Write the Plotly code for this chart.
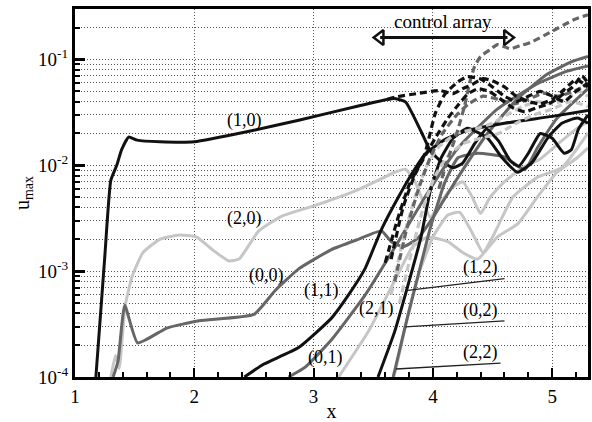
import math
import plotly.graph_objects as go

BLACK = "#111111"
DGRAY = "#666666"
LGRAY = "#c6c6c6"

# ---------------- solid curves (uncontrolled) ----------------
x_10 = [1.175, 1.25, 1.30, 1.35, 1.39, 1.45, 1.52, 1.71, 2.0, 2.46, 2.875, 3.375, 3.67, 3.77, 3.9, 3.98, 4.07, 4.17, 4.25, 4.35, 4.45, 4.55, 4.65, 4.72, 4.8, 4.9, 5.0, 5.1, 5.16, 5.22, 5.3]
y_10 = [1e-4, 1.39e-3, 7.2e-3, 0.0100, 0.0140, 0.0185, 0.0173, 0.0167, 0.0167, 0.0210, 0.0267, 0.0363, 0.0427, 0.0398, 0.021, 0.0136, 0.0109, 0.0095, 0.0105, 0.016, 0.022, 0.017, 0.011, 0.0098, 0.013, 0.020, 0.018, 0.013, 0.014, 0.022, 0.030]

x_20 = [1.30, 1.34, 1.37, 1.42, 1.48, 1.57, 1.71, 1.875, 2.02, 2.15, 2.29, 2.375, 2.54, 2.73, 3.02, 3.375, 3.54, 3.68, 3.77, 3.85, 3.92, 3.98, 4.05, 4.15, 4.25, 4.33, 4.40, 4.48, 4.6, 4.75, 4.9, 5.05, 5.2, 5.3]
y_20 = [1e-4, 1.6e-4, 1.2e-4, 4.7e-4, 9.0e-4, 1.5e-3, 2.0e-3, 2.2e-3, 2.1e-3, 1.6e-3, 1.25e-3, 1.3e-3, 2.4e-3, 3.3e-3, 4.2e-3, 5.9e-3, 7.2e-3, 8.6e-3, 9.2e-3, 7.0e-3, 4.5e-3, 3.2e-3, 4.2e-3, 6.0e-3, 7.0e-3, 5.0e-3, 3.5e-3, 5.0e-3, 7.0e-3, 9.5e-3, 0.0115, 0.016, 0.022, 0.026]

x_00 = [1.32, 1.36, 1.417, 1.525, 1.77, 2.04, 2.5, 2.68, 2.875, 3.15, 3.375, 3.57, 3.65, 3.75, 3.875, 4.0, 4.21, 4.46, 4.71, 4.96, 5.17, 5.3]
y_00 = [1e-4, 1.4e-4, 4.76e-4, 2.1e-4, 2.9e-4, 3.4e-4, 3.9e-4, 6.6e-4, 1.05e-3, 1.6e-3, 2.0e-3, 2.4e-3, 1.9e-3, 1.7e-3, 2.05e-3, 3.2e-3, 7.7e-3, 0.0202, 0.0427, 0.0728, 0.096, 0.107]

x_11 = [2.42, 2.58, 2.875, 3.15, 3.29, 3.43, 3.57, 3.71, 3.82, 3.93, 4.1, 4.27, 4.6, 5.0, 5.3]
y_11 = [1e-4, 1.32e-4, 1.9e-4, 3.6e-4, 5.9e-4, 1.05e-3, 2.5e-3, 5.0e-3, 8.2e-3, 0.0126, 0.0175, 0.021, 0.025, 0.029, 0.033]

x_01 = [2.79, 2.93, 3.15, 3.43, 3.71, 3.96, 4.21, 4.54, 4.875, 5.125, 5.3]
y_01 = [1e-4, 1.24e-4, 2.25e-4, 5.9e-4, 1.9e-3, 5.6e-3, 0.0146, 0.034, 0.059, 0.0776, 0.087]

x_21 = [3.21, 3.46, 3.71, 3.83, 3.96, 4.125, 4.25, 4.375, 4.54, 4.71, 4.875, 5.04, 5.21, 5.3]
y_21 = [1e-4, 2.7e-4, 9.5e-4, 1.7e-3, 2.1e-3, 1.9e-3, 1.5e-3, 1.3e-3, 2.1e-3, 2.8e-3, 5.0e-3, 8.6e-3, 0.0118, 0.0146]

x_12 = [3.54, 3.68, 3.79, 3.9, 3.98, 4.07, 4.17, 4.29, 4.46, 4.58, 4.71, 4.83, 4.96, 5.08, 5.21, 5.3]
y_12 = [1e-4, 2.7e-4, 7.3e-4, 2.1e-3, 5.9e-3, 0.0118, 0.0181, 0.0224, 0.018, 0.0118, 0.0086, 0.0106, 0.018, 0.025, 0.028, 0.025]

x_02 = [3.667, 3.767, 3.875, 3.98, 4.1, 4.21, 4.375, 4.6, 4.77, 4.875, 5.04, 5.3]
y_02 = [1e-4, 2.98e-4, 9.0e-4, 2.6e-3, 6.9e-3, 0.0118, 0.013, 0.012, 0.0091, 0.0146, 0.0278, 0.053]

x_22 = [3.67, 3.69, 3.79, 3.875, 4.0, 4.125, 4.225, 4.33, 4.42, 4.5, 4.67, 4.875, 5.08, 5.3]
y_22 = [1e-4, 1.19e-4, 3.85e-4, 9.0e-4, 2.1e-3, 3.4e-3, 3.6e-3, 2.3e-3, 1.5e-3, 2.1e-3, 5.0e-3, 7.7e-3, 9.5e-3, 0.0202]

# ---------------- dashed curves (controlled) ----------------
xd_10 = [3.62, 3.7, 3.86, 4.06, 4.17, 4.25, 4.33, 4.42, 4.5, 4.6, 4.7, 4.8, 4.9, 5.0, 5.1, 5.2, 5.3]
yd_10 = [0.042, 0.0445, 0.0475, 0.051, 0.0475, 0.053, 0.058, 0.066, 0.063, 0.055, 0.045, 0.040, 0.038, 0.042, 0.052, 0.065, 0.055]

xd_11 = [3.6, 3.7, 3.8, 3.93, 4.02, 4.1, 4.21, 4.29, 4.4, 4.5, 4.6, 4.7, 4.8, 4.9, 5.0, 5.1, 5.2, 5.3]
yd_11 = [1.2e-3, 3.0e-3, 6.5e-3, 0.0126, 0.031, 0.047, 0.0615, 0.0688, 0.0655, 0.055, 0.045, 0.040, 0.045, 0.050, 0.045, 0.040, 0.050, 0.060]

xd_12 = [3.65, 3.75, 3.85, 4.02, 4.125, 4.21, 4.29, 4.375, 4.47, 4.57, 4.67, 4.77, 4.87, 4.97, 5.07, 5.17, 5.25, 5.3]
yd_12 = [1.3e-3, 4.0e-3, 8.2e-3, 0.0181, 0.0278, 0.037, 0.047, 0.0529, 0.050, 0.042, 0.035, 0.032, 0.035, 0.038, 0.045, 0.055, 0.070, 0.060]

xd_00 = [4.05, 4.12, 4.2, 4.267, 4.31, 4.35, 4.4, 4.48, 4.54, 4.6, 4.65, 4.73, 4.82, 4.98, 5.18, 5.3]
yd_00 = [6.0e-3, 0.011, 0.020, 0.037, 0.0615, 0.086, 0.107, 0.124, 0.138, 0.132, 0.126, 0.135, 0.145, 0.180, 0.237, 0.265]

xd_01 = [3.68, 3.78, 3.88, 3.98, 4.08, 4.2, 4.3, 4.42, 4.55, 4.68, 4.8, 4.92, 5.05, 5.18, 5.3]
yd_01 = [8.0e-4, 2.5e-3, 6.0e-3, 0.012, 0.020, 0.030, 0.038, 0.045, 0.042, 0.038, 0.042, 0.048, 0.045, 0.050, 0.058]

xd_20 = [3.65, 3.75, 3.85, 3.95, 4.05, 4.2, 4.35, 4.5, 4.62, 4.75, 4.88, 5.0, 5.12, 5.22, 5.3]
yd_20 = [6.0e-4, 2.0e-3, 5.0e-3, 0.010, 0.015, 0.020, 0.022, 0.025, 0.030, 0.036, 0.040, 0.038, 0.042, 0.050, 0.045]

xd_21 = [3.72, 3.82, 3.92, 4.02, 4.12, 4.25, 4.4, 4.55, 4.7, 4.85, 5.0, 5.15, 5.3]
yd_21 = [5.0e-4, 1.5e-3, 4.0e-3, 8.0e-3, 0.012, 0.016, 0.018, 0.020, 0.025, 0.030, 0.034, 0.040, 0.036]

# ---------------- labels ----------------
label_text = ["(1,0)", "(2,0)", "(0,0)", "(1,1)", "(0,1)", "(2,1)", "(1,2)", "(0,2)", "(2,2)"]
label_x = [2.417, 2.417, 2.608, 3.067, 3.10, 3.525, 4.40, 4.40, 4.40]
label_logy = [-1.574, -2.504, -3.043, -3.182, -3.814, -3.349, -2.968, -3.368, -3.768]

# leader lines: (text end) -> (curve)
leader_x = [[4.60, 3.79], [4.60, 3.767], [4.567, 3.69]]
leader_y = [[8.5e-4, 6.58e-4], [3.39e-4, 2.98e-4], [1.35e-4, 1.19e-4]]

arrow_x = [3.558, 4.625]
arrow_y = [0.161, 0.161]
arrow_label = "control array"
arrow_label_x = 4.083
arrow_label_logy = -0.645

y_major = [1e-4, 1e-3, 1e-2, 1e-1]
y_major_text = ["10<sup>-4</sup>", "10<sup>-3</sup>", "10<sup>-2</sup>", "10<sup>-1</sup>"]
y_minor = [k * 10.0 ** e for e in (-4, -3, -2, -1) for k in range(2, 10) if k * 10.0 ** e <= 0.3]

FONT = "'Liberation Serif', 'Times New Roman', Times, 'DejaVu Serif', serif"

fig = go.Figure()

solids = [
    (x_20, y_20, LGRAY), (x_21, y_21, LGRAY), (x_22, y_22, LGRAY),
    (x_00, y_00, DGRAY), (x_01, y_01, DGRAY), (x_02, y_02, DGRAY),
    (x_10, y_10, BLACK), (x_11, y_11, BLACK), (x_12, y_12, BLACK),
]
for xs, ys, c in solids:
    fig.add_trace(go.Scatter(x=xs, y=ys, mode="lines", line=dict(color=c, width=3, shape="spline", smoothing=0.45),
                             showlegend=False, hoverinfo="skip"))

dashed = [
    (xd_20, yd_20, LGRAY), (xd_21, yd_21, LGRAY),
    (xd_00, yd_00, DGRAY), (xd_01, yd_01, DGRAY),
    (xd_10, yd_10, BLACK), (xd_11, yd_11, BLACK), (xd_12, yd_12, BLACK),
]
for xs, ys, c in dashed:
    fig.add_trace(go.Scatter(x=xs, y=ys, mode="lines",
                             line=dict(color=c, width=3.2, dash="7px,4px", shape="spline", smoothing=0.45),
                             showlegend=False, hoverinfo="skip"))

for lx, ly in zip(leader_x, leader_y):
    fig.add_trace(go.Scatter(x=lx, y=ly, mode="lines", line=dict(color="#222222", width=1.3),
                             showlegend=False, hoverinfo="skip"))

# control array double arrow
fig.add_trace(go.Scatter(x=arrow_x, y=arrow_y, mode="lines", line=dict(color=BLACK, width=3),
                         showlegend=False, hoverinfo="skip"))
fig.add_trace(go.Scatter(x=arrow_x, y=arrow_y, mode="markers",
                         marker=dict(symbol=["triangle-left-open", "triangle-right-open"], size=13,
                                     color=BLACK, line=dict(width=2.5, color=BLACK)),
                         showlegend=False, hoverinfo="skip"))

for t, lx, ly in zip(label_text, label_x, label_logy):
    fig.add_annotation(x=lx, y=ly, text=t, showarrow=False, font=dict(family=FONT, size=18, color="black"),
                       xref="x", yref="y")
fig.add_annotation(x=arrow_label_x, y=arrow_label_logy, text=arrow_label, showarrow=False,
                   font=dict(family=FONT, size=19, color="black"))

grid_color = "#555555"
grid_dash = "1px,2px"
fig.update_xaxes(
    range=[1, 5.3], tickmode="array", tickvals=[1, 2, 3, 4, 5], ticktext=["1", "2", "3", "4", "5"],
    ticks="inside", ticklen=9, tickwidth=2, tickcolor="black",
    showline=True, linewidth=3, linecolor="black", mirror=True,
    showgrid=True, gridcolor=grid_color, griddash=grid_dash, gridwidth=1,
    minor=dict(tickmode="array", tickvals=[1 + 0.2 * i for i in range(22) if i % 5 != 0],
               ticks="inside", ticklen=5, tickwidth=1.5, tickcolor="black", showgrid=False),
    tickfont=dict(family=FONT, size=19, color="black"),
    title=dict(text="x", font=dict(family=FONT, size=20, color="black"), standoff=0),
    zeroline=False,
)
fig.update_yaxes(
    type="log", range=[-4, math.log10(0.3)],
    tickmode="array", tickvals=y_major, ticktext=y_major_text,
    ticks="inside", ticklen=10, tickwidth=2.5, tickcolor="black",
    showline=True, linewidth=3, linecolor="black", mirror=True,
    showgrid=True, gridcolor=grid_color, griddash=grid_dash, gridwidth=1,
    minor=dict(tickmode="array", tickvals=y_minor, ticks="inside", ticklen=5, tickwidth=1.5,
               tickcolor="black", showgrid=True, gridcolor=grid_color, griddash=grid_dash, gridwidth=1),
    tickfont=dict(family=FONT, size=19, color="black"),
    title=dict(text="u<sub>max</sub>", font=dict(family=FONT, size=20, color="black"), standoff=4),
    zeroline=False,
)
fig.update_layout(
    width=592, height=422, margin=dict(l=75, r=1, t=9, b=39),
    plot_bgcolor="white", paper_bgcolor="white", showlegend=False,
)
fig.write_html("out.html")
